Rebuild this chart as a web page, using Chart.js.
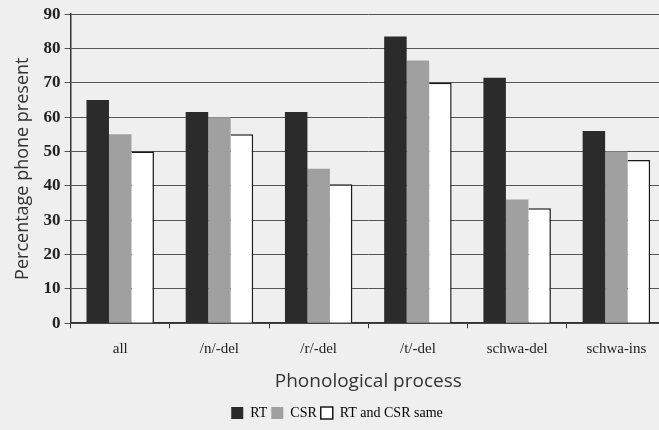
<!DOCTYPE html>
<html>
<head>
<meta charset="utf-8">
<script src="https://cdn.jsdelivr.net/npm/chart.js@4"></script>
<style>
  html, body { margin: 0; padding: 0; background: #efefef; overflow: hidden; }
  #wrap { width: 659px; height: 430px; overflow: hidden; }
  #box { width: 666px; height: 430px; }
</style>
</head>
<body>
<div id="wrap"><div id="box"><canvas id="chart"></canvas></div></div>
<script>
// values
const processes = ['all', '/n/-del', '/r/-del', '/t/-del', 'schwa-del', 'schwa-ins'];
const rtValues = [65, 61.5, 61.5, 83.5, 71.5, 56];
const csrValues = [55, 60, 45, 76.5, 36, 50];
const sameValues = [50, 55, 40.5, 70, 33.5, 47.5];
const seriesNames = ['RT', 'CSR', 'RT and CSR same'];

const serif = '"Liberation Serif", "DejaVu Serif", serif';
const sans = '"Open Sans", "Noto Sans", sans-serif';

const config = {
    type: 'bar',
    data: {
        labels: processes,
        datasets: [{
            label: seriesNames[0],
            data: rtValues,
            backgroundColor: '#2b2b2b',
            borderWidth: 0
        }, {
            label: seriesNames[1],
            data: csrValues,
            backgroundColor: '#a0a0a0',
            borderWidth: 0
        }, {
            label: seriesNames[2],
            data: sameValues,
            backgroundColor: '#ffffff',
            borderColor: '#1a1a1a',
            borderWidth: {top: 1.5, right: 1.5, left: 0, bottom: 0}
        }]
    },
    options: {
        responsive: true,
        maintainAspectRatio: false,
        animation: false,
        layout: { padding: { top: 11, right: 0, left: 8, bottom: 0 } },
        datasets: {
            bar: { categoryPercentage: 0.68, barPercentage: 1 }
        },
        plugins: {
            tooltip: { enabled: false },
            legend: {
                position: 'bottom',
                labels: {
                    boxWidth: 12,
                    boxHeight: 12,
                    padding: 4,
                    color: '#222',
                    font: { family: serif, size: 14 },
                    generateLabels(chart) {
                        return chart.data.datasets.map((ds, i) => ({
                            text: ds.label,
                            fillStyle: ds.backgroundColor,
                            strokeStyle: i === 2 ? '#1a1a1a' : ds.backgroundColor,
                            lineWidth: i === 2 ? 1.5 : 0,
                            datasetIndex: i
                        }));
                    }
                }
            }
        },
        scales: {
            x: {
                grid: { display: true, offset: true, drawOnChartArea: false, drawTicks: true, tickLength: 5, color: '#333' },
                border: { color: '#333', width: 1.5 },
                ticks: { color: '#222', font: { family: serif, size: 15 }, padding: 12 },
                title: { display: true, text: 'Phonological process', color: '#333', font: { family: sans, size: 19 }, padding: { top: 0, bottom: 9 } }
            },
            y: {
                min: 0,
                max: 90,
                ticks: { stepSize: 10, color: '#222', font: { family: serif, size: 17, weight: 'bold' }, padding: 4 },
                grid: { color: '#555', lineWidth: 1, tickLength: 6 },
                border: { color: '#333', width: 1.5 },
                title: { display: true, text: 'Percentage phone present', color: '#333', font: { family: sans, size: 18 }, padding: { bottom: 6 } }
            }
        }
    }
};

new Chart(document.getElementById('chart'), config);
</script>
</body>
</html>
